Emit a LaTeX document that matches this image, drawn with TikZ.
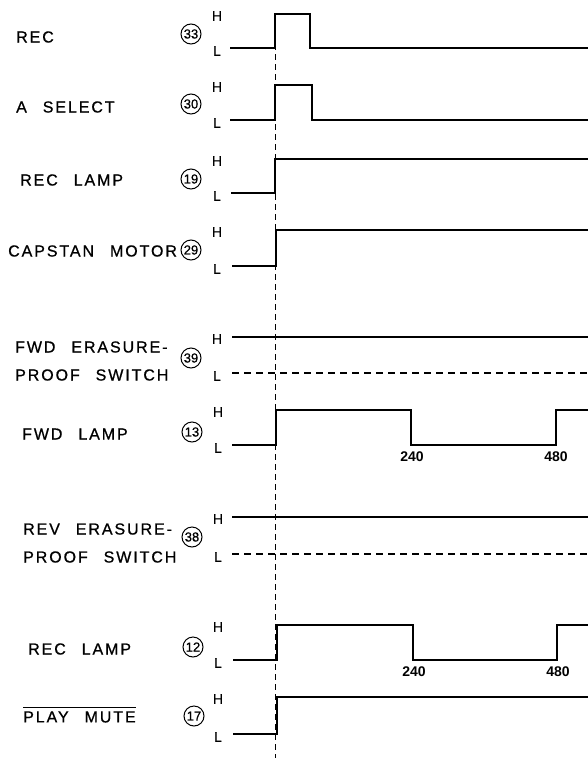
\documentclass[tikz,border=0pt]{standalone}
\usepackage{fontspec}
\setmainfont{Liberation Sans}
\newfontfamily\sigfont[LetterSpace=12,WordSpace=2.5,FakeBold=0.8]{Liberation Sans}
\newfontfamily\lvlfont[FakeBold=0.8]{Liberation Sans}
\usepackage{tikz}
\usetikzlibrary{calc}
\tikzset{
	sig/.style={line width=1.6pt},
	lowdash/.style={line width=1.3pt,dash pattern=on 7pt off 5pt},
	marker/.style={line width=0.9pt,dash pattern=on 6pt off 4pt},
	lbl/.style={anchor=west,inner sep=0pt,align=left,font=\fontsize{16}{28}\sigfont},
	lvl/.style={inner sep=0pt,font=\fontsize{14}{14}\lvlfont},
	pin/.style={circle,draw,line width=1pt,minimum size=20pt,inner sep=0pt,font=\fontsize{13}{13}\lvlfont},
	cnt/.style={inner sep=0pt,font=\fontsize{14}{14}\selectfont\bfseries}
}

\begin{document}
\begin{tikzpicture}[x=1pt,y=-1pt]
		\useasboundingbox (0,0) rectangle (588,758);
		\draw[marker] (275,14) -- (275,758);

		\node[lbl] (lblrec) at (16,37) {REC};\node[pin] (pinrec) at (191,34) {33};
		\node[lvl] (hrec) at (217,16) {H};\node[lvl] (lrec) at (217,51) {L};
		\draw[sig] (230,48) -- (275,48) -- (275,14) -- (310,14) -- (310,48) -- (588,48);

		\node[lbl] (lblasel) at (16,107) {A SELECT};\node[pin] (pinasel) at (191,104) {30};
		\node[lvl] (hasel) at (217,87) {H};\node[lvl] (lasel) at (217,123) {L};
		\draw[sig] (230,120) -- (275,120) -- (275,85) -- (312,85) -- (312,120) -- (588,120);

		\node[lbl] (lblreclamp) at (20,180) {REC LAMP};\node[pin] (pinreclamp) at (191,179) {19};
		\node[lvl] (hreclamp) at (217,161) {H};\node[lvl] (lreclamp) at (217,196) {L};
		\draw[sig] (231,193) -- (275,193) -- (275,159) -- (588,159);

		\node[lbl] (lblcapstan) at (8,251) {CAPSTAN MOTOR};\node[pin] (pincapstan) at (191,250) {29};
		\node[lvl] (hcapstan) at (217,232) {H};\node[lvl] (lcapstan) at (217,269) {L};
		\draw[sig] (232,266) -- (276,266) -- (276,230) -- (588,230);

		\node[lbl] (lblfwdsw) at (15,361) {FWD ERASURE-\\PROOF SWITCH};\node[pin] (pinfwdsw) at (191,358) {39};
		\node[lvl] (hfwdsw) at (217,339) {H};\node[lvl] (lfwdsw) at (217,376) {L};
		\draw[sig] (232,337) -- (588,337);\draw[lowdash] (232,373) -- (588,373);

		\node[lbl] (lblfwdlamp) at (22,434) {FWD LAMP};\node[pin] (pinfwdlamp) at (192,432) {13};
		\node[lvl] (hfwdlamp) at (218,412) {H};\node[lvl] (lfwdlamp) at (218,448) {L};
		\draw[sig] (232,445) -- (276,445) -- (276,410) -- (411,410) -- (411,445) -- (556,445) -- (556,410) -- (588,410);
		\node[cnt] (fwdoff) at (412,457) {240};\node[cnt] (fwdon) at (556,457) {480};

		\node[lbl] (lblrevsw) at (23,543) {REV ERASURE-\\PROOF SWITCH};\node[pin] (pinrevsw) at (192,537) {38};
		\node[lvl] (hrevsw) at (218,519) {H};\node[lvl] (lrevsw) at (218,557) {L};
		\draw[sig] (232,517) -- (588,517);\draw[lowdash] (232,554) -- (588,554);

		\node[lbl] (lblreclamptwo) at (28,649) {REC LAMP};\node[pin] (pinreclamptwo) at (193,647) {12};
		\node[lvl] (hreclamptwo) at (218,627) {H};\node[lvl] (lreclamptwo) at (218,663) {L};
		\draw[sig] (233,660) -- (277,660) -- (277,625) -- (413,625) -- (413,660) -- (557,660) -- (557,625) -- (588,625);
		\node[cnt] (recoff) at (414,672) {240};\node[cnt] (recon) at (558,672) {480};

		\node[lbl] (lblmute) at (23,717) {PLAY MUTE};\node[pin] (pinmute) at (194,716) {17};
		\draw[line width=0.8pt] ($(lblmute.north west)+(0,-4)$) -- ($(lblmute.north east)+(0,-4)$);
		\node[lvl] (hmute) at (218,699) {H};\node[lvl] (lmute) at (218,737) {L};
		\draw[sig] (233,734) -- (277,734) -- (277,697) -- (588,697);
	\end{tikzpicture}
\end{document}
